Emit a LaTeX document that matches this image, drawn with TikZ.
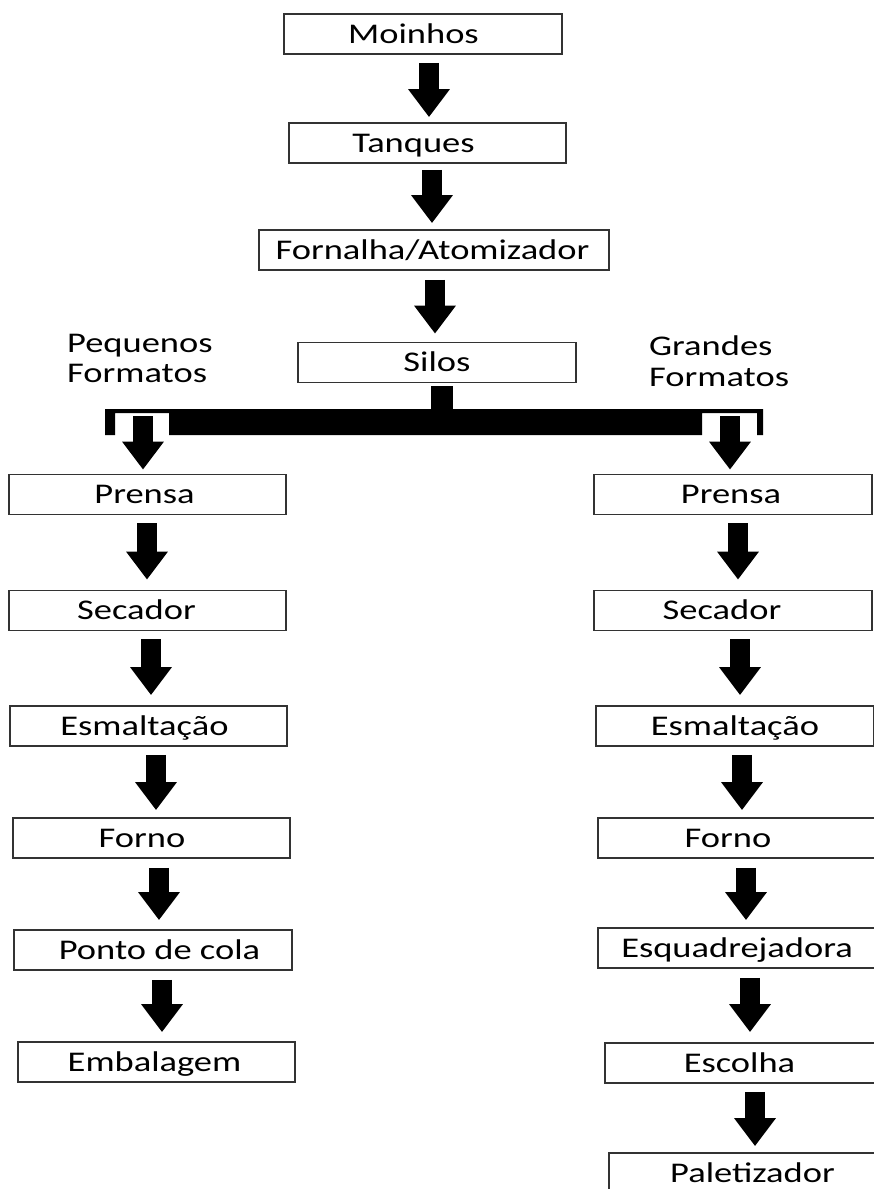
\documentclass[tikz,border=0pt]{standalone}
\usepackage{fontspec}
\setmainfont{Carlito}[FakeStretch=1.28]
\usetikzlibrary{arrows.meta,calc}
\newcommand\fatflow[5]{\coordinate (fx) at (#3,0); \draw[fatarrow,shorten <=#4pt,shorten >=#5pt] (#1.south -| fx) -- (#2.north -| fx);}
\newcommand\shifttext[2]{\hspace*{#1pt}\hspace*{#1pt}#2}
\begin{document}
\begin{tikzpicture}[x=1pt,y=-1pt,
  box/.style={draw=black!80,line width=1.8pt,minimum height=40pt,inner sep=0pt,text height=18.5pt,text depth=0pt,font=\fontsize{28.5}{34}\selectfont},
  lbl/.style={anchor=base west,inner sep=0pt,font=\fontsize{28.5}{34}\selectfont},
  fatarrow/.style={line width=20pt,line cap=butt,-{Triangle[width=40pt,length=28pt]}}]
\useasboundingbox (0,0) rectangle (874,1189);
\fill[white] (0,0) rectangle (874,1189);
\clip (0,0) rectangle (874,1189);
% top chain
\node[box,minimum width=278pt] (moinhos) at (423,34) {\shifttext{-9.5}{Moinhos}};
\node[box,minimum width=277pt] (tanques) at (427.5,143) {\shifttext{-14}{Tanques}};
\node[box,minimum width=350pt] (fornalha) at (434,250) {\shifttext{-1.5}{Fornalha/Atomizador}};
\node[box,minimum width=278pt] (silos) at (437,362.5) {Silos};
% left column
\node[box,minimum width=277pt] (prensaL) at (147.5,494.5) {\shifttext{-3}{Prensa}};
\node[box,minimum width=277pt] (secadorL) at (147.5,610.5) {\shifttext{-11}{Secador}};
\node[box,minimum width=277pt] (esmaltL) at (148.5,726) {\shifttext{-4}{Esmaltação}};
\node[box,minimum width=277pt] (fornoL) at (151.5,838) {\shifttext{-9.5}{Forno}};
\node[box,minimum width=278pt] (pontoL) at (153,950) {\shifttext{6.5}{Ponto de cola}};
\node[box,minimum width=277pt] (embalL) at (156.5,1062) {\shifttext{-2}{Embalagem}};
% right column
\node[box,minimum width=278pt] (prensaR) at (733,494.5) {\shifttext{-2}{Prensa}};
\node[box,minimum width=278pt] (secadorR) at (733,610.5) {\shifttext{-11}{Secador}};
\node[box,minimum width=278pt] (esmaltR) at (735,726) {Esmaltação};
\node[box,minimum width=278pt] (fornoR) at (737,838) {\shifttext{-9}{Forno}};
\node[box,minimum width=278pt] (esquadR) at (737,948) {Esquadrejadora};
\node[box,minimum width=278pt] (escolhaR) at (744,1063) {\shifttext{-4.5}{Escolha}};
\node[box,minimum width=278pt] (paletR) at (748,1173) {\shifttext{4.5}{Paletizador}};
% labels
\node[lbl] (peq1) at (67,352) {Pequenos};
\node[lbl] (peq2) at (67,382) {Formatos};
\node[lbl] (gra1) at (649,355) {Grandes};
\node[lbl] (gra2) at (649,386) {Formatos};
% arrows
\fatflow{moinhos}{tanques}{429}{8}{5}
\fatflow{tanques}{fornalha}{432}{6}{6}
\fatflow{fornalha}{silos}{435}{9}{8}
\fatflow{prensaL}{secadorL}{147}{8}{10}
\fatflow{secadorL}{esmaltL}{151}{8}{10}
\fatflow{esmaltL}{fornoL}{156}{8}{7}
\fatflow{fornoL}{pontoL}{159}{9}{9}
\fatflow{pontoL}{embalL}{162}{9}{9}
\fatflow{prensaR}{secadorR}{738}{8}{10}
\fatflow{secadorR}{esmaltR}{740}{8}{10}
\fatflow{esmaltR}{fornoR}{742}{8}{7}
\fatflow{fornoR}{esquadR}{746}{9}{7}
\fatflow{esquadR}{escolhaR}{750}{9}{10}
\fatflow{escolhaR}{paletR}{755}{8}{6}
% splitter
\fill ($(silos.south)+(-6,3)$) rectangle ($(silos.south)+(16,27)$);
\fill (105,409) -- (763,409) -- (763,435) -- (757,435) -- (757,413) -- (702,413) -- (702,435) -- (169,435) -- (169,413) -- (115,413) -- (115,435) -- (105,435) -- cycle;
\coordinate (splitL) at (143,416);
\coordinate (splitR) at (730,416);
\draw[fatarrow,shorten >=4pt] (splitL) -- (splitL |- prensaL.north);
\draw[fatarrow,shorten >=4pt] (splitR) -- (splitR |- prensaR.north);
\end{tikzpicture}
\end{document}
